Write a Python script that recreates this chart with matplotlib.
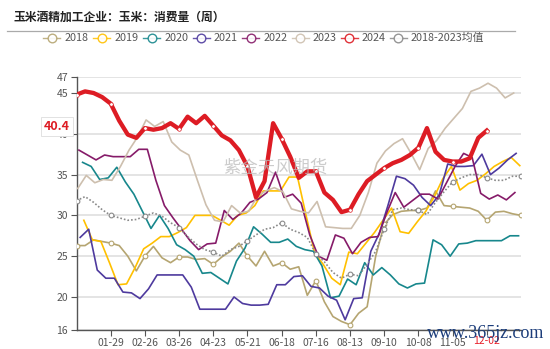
import numpy as np
import pandas as pd
import matplotlib
matplotlib.use('Agg')
from matplotlib import pyplot as plt
from matplotlib.lines import Line2D

plt.rcParams['font.family'] = ['Noto Sans CJK SC', 'DejaVu Sans']

title = '玉米酒精加工企业：玉米：消费量（周）'
years = ['2018', '2019', '2020', '2021', '2022', '2023', '2024']
avg_name = '2018-2023均值'

# weekly consumption, one list per year (weeks start on the first Monday)
v2018 = [26.3, 26.3, 27.0, 26.8, 26.6, 26.3, 25.0, 23.2, 25.0, 26.2,
         24.8, 24.2, 24.9, 24.9, 24.6, 24.7, 24.0, 24.9, 25.6, 26.6,
         25.0, 23.8, 25.6, 23.8, 24.2, 23.4, 23.7, 20.2, 22.0, 19.4,
         17.6, 17.0, 16.6, 18.0, 18.8, 25.0, 28.9, 30.1, 30.5, 30.6,
         30.6, 30.9, 33.0, 31.2, 31.1, 31.0, 30.9, 30.5, 29.4, 30.4,
         30.5, 30.2, 30.0]
v2019 = [29.4, 27.0, 26.8, 24.2, 21.5, 21.6, 23.6, 25.9, 26.6, 27.4,
         27.4, 27.9, 28.5, 30.0, 30.0, 30.0, 29.4, 28.8, 30.0, 30.3,
         31.2, 33.0, 33.0, 33.0, 34.7, 34.7, 30.0, 25.4, 24.0, 22.3,
         21.5, 25.5, 25.3, 26.6, 27.9, 29.4, 30.9, 28.0, 27.8, 29.2,
         30.5, 32.3, 34.5, 36.0, 33.1, 33.9, 34.3, 35.1, 36.0, 36.6,
         37.1, 36.1]
v2020 = [36.5, 36.0, 34.4, 34.6, 35.9, 34.1, 32.6, 30.5, 28.4, 30.0,
         28.4, 26.4, 25.8, 25.0, 22.9, 23.0, 22.3, 21.6, 24.4, 26.0,
         28.6, 27.7, 26.7, 26.7, 27.1, 26.2, 25.8, 25.6, 23.8, 19.9,
         20.1, 22.2, 21.5, 24.2, 22.7, 23.6, 22.7, 21.6, 21.1, 21.6,
         21.7, 27.0, 26.4, 25.0, 26.5, 26.6, 26.9, 26.9, 26.9, 26.9,
         27.5, 27.5]
v2021 = [27.3, 28.3, 23.3, 22.3, 22.3, 20.6, 20.5, 19.8, 21.0, 22.7,
         22.7, 22.7, 22.7, 21.2, 18.5, 18.5, 18.5, 18.5, 20.0, 19.2,
         19.0, 19.0, 19.1, 21.5, 21.5, 22.5, 22.6, 21.3, 21.1, 20.1,
         19.6, 17.2, 19.8, 19.9, 25.6, 27.8, 31.2, 34.8, 34.5, 33.7,
         32.2, 31.2, 32.5, 36.3, 36.0, 36.0, 36.1, 37.5, 35.0, 35.8,
         36.8, 37.6]
v2022 = [38.0, 37.4, 36.8, 37.4, 37.2, 37.2, 37.2, 38.1, 38.1, 34.3,
         31.2, 29.7, 28.3, 26.9, 25.8, 26.5, 26.6, 30.6, 29.5, 30.3,
         31.6, 32.0, 32.8, 35.3, 32.2, 32.6, 31.5, 27.6, 25.0, 24.5,
         27.6, 27.2, 25.3, 26.7, 27.3, 27.4, 30.3, 32.8, 31.0, 31.8,
         32.6, 32.6, 32.0, 34.0, 36.0, 37.6, 37.1, 32.7, 32.0, 32.5,
         31.9, 32.8]
v2023 = [33.3, 34.9, 34.0, 34.4, 34.3, 36.0, 38.0, 39.6, 41.7, 40.9,
         41.5, 39.0, 38.0, 37.4, 34.3, 31.3, 29.4, 29.2, 31.2, 30.3,
         30.5, 32.3, 33.0, 33.4, 32.9, 30.8, 30.5, 30.3, 31.7, 28.6,
         28.5, 28.4, 28.4, 30.0, 32.8, 36.4, 37.9, 38.8, 39.4, 37.6,
         35.6, 38.2, 39.2, 40.7, 41.9, 43.1, 45.2, 45.6, 46.2, 45.6,
         44.4, 45.0]
v2024 = [44.8, 45.2, 45.0, 44.5, 43.7, 41.6, 39.9, 39.5, 40.7, 40.5,
         40.7, 41.3, 40.6, 42.1, 41.3, 42.2, 41.0, 39.8, 39.2, 38.0,
         36.0, 32.2, 34.2, 41.3, 39.4, 37.2, 34.6, 35.4, 35.4, 32.8,
         31.9, 30.4, 30.7, 32.6, 34.2, 35.0, 35.8, 36.4, 36.8, 37.4,
         38.3, 40.7, 37.8, 36.8, 36.6, 36.6, 37.0, 39.5, 40.4]
v_avg = [31.8, 32.3, 31.6, 30.7, 30.0, 29.7, 29.4, 29.5, 29.9, 30.3,
         29.9, 29.1, 28.5, 27.4, 26.5, 25.8, 25.5, 25.0, 25.8, 26.2,
         26.9, 27.6, 28.3, 28.5, 29.1, 28.3, 27.9, 27.3, 25.3, 24.3,
         23.0, 22.3, 22.8, 22.6, 24.0, 25.6, 28.3, 30.7, 30.9, 30.7,
         30.6, 30.1, 31.6, 32.9, 34.1, 34.6, 35.0, 35.0, 34.6, 34.3,
         34.3, 34.8, 34.8]

xtick_labels = ['01-29', '02-26', '03-26', '04-23', '05-21', '06-18',
                '07-16', '08-13', '09-10', '10-08', '11-05']
last_date = '12-02'
last_value = 40.4
yticks = [16, 20, 25, 30, 35, 40, 45, 47]

colors = ['#B5A571', '#FFC000', '#17878C', '#4E3A9E', '#861B69', '#CDBFAE', '#DD1C24']
avg_color = '#8A8A8A'
series = [v2018, v2019, v2020, v2021, v2022, v2023, v2024]


def week_days(year, n):
    # day of year (0 = Jan 1) for each weekly Monday
    d = pd.date_range(f'{year}-01-01', periods=n, freq='W-MON')
    return np.asarray(d.dayofyear) - 1


W, H = 550, 349
fig = plt.figure(figsize=(W / 100, H / 100), dpi=100)
ax = fig.add_axes([76.5 / W, 1 - 329.6 / H, (521 - 76.5) / W, (329.6 - 76.7) / H])

for name, vals, c in zip(years, series, colors):
    x = week_days(name, len(vals))
    if name == '2024':
        ax.plot(x, vals, color=c, lw=3.1, zorder=6, solid_joinstyle='round',
                marker='o', markevery=4, ms=2.6, mfc='white', mec=c, mew=0.5)
    elif name == '2018':
        ax.plot(x, vals, color=c, lw=1.2, zorder=3,
                marker='o', markevery=4, ms=3.4, mfc='white', mec=c, mew=0.8)
    else:
        ax.plot(x, vals, color=c, lw=1.2, zorder=3)

xa = week_days('2018', len(v_avg))
ax.plot(xa, v_avg, color=avg_color, lw=1.2, ls=(0, (1, 1.2)), zorder=5,
        marker='o', markevery=4, ms=3.4, mfc='white', mec=avg_color, mew=0.8)

ax.set_xlim(0, 364)
ax.set_ylim(16, 47)
ax.set_yticks(yticks)
ax.set_yticklabels([str(t) for t in yticks])
ax.yaxis.grid(True, color='#E2E2E2', lw=1.3)
ax.set_axisbelow(True)

tick_days = [28 * (i + 1) for i in range(len(xtick_labels) + 1)]
ax.set_xticks(tick_days)
ax.set_xticklabels(xtick_labels + [''])

for s in ['top', 'right']:
    ax.spines[s].set_visible(False)
for s in ['left', 'bottom']:
    ax.spines[s].set_color('#555555')
    ax.spines[s].set_linewidth(1.0)
ax.tick_params(axis='both', direction='out', length=4, width=0.8, color='#555555',
               labelsize=7.5, labelcolor='#555555')
ax.tick_params(axis='x', pad=2)
ax.tick_params(axis='y', pad=2)

# pointer labels for the latest 2024 value
ax.text(-0.044, last_value + 0.45, f'{last_value}', transform=ax.get_yaxis_transform(),
        ha='center', va='center', color='#DD1C24', fontsize=9, fontweight='bold',
        bbox=dict(boxstyle='square,pad=0.25', fc='white', ec='#DDDDDD', lw=0.6), zorder=10)
ax.text(week_days('2024', len(v2024))[-1], -0.047, last_date, transform=ax.get_xaxis_transform(),
        ha='center', va='center', color='#E8202A', fontsize=7.5,
        bbox=dict(boxstyle='square,pad=0.15', fc='white', ec='none'), zorder=10)

# title and rule
fig.text(14 / W, 1 - 17 / H, title, fontsize=8.5, fontweight='bold', color='#222222',
         ha='left', va='center')
fig.add_artist(Line2D([7 / W, 515 / W], [1 - 30.7 / H, 1 - 30.7 / H],
                      transform=fig.transFigure, color='#AAAAAA', lw=0.9))

# legend
legend_cx = [51.7, 101.7, 151.7, 201, 250.7, 300, 349.3, 398.3]
legend_names = years + [avg_name]
legend_colors = colors + [avg_color]
ly = 1 - 38.3 / H
for cx, name, c in zip(legend_cx, legend_names, legend_colors):
    fig.add_artist(Line2D([(cx - 8.5) / W, (cx + 8.5) / W], [ly, ly], transform=fig.transFigure,
                          color=c, lw=1.0, alpha=0.85))
    fig.add_artist(Line2D([cx / W], [ly], transform=fig.transFigure, marker='o', ms=6.2,
                          mfc='white', mec=c, mew=1.0, alpha=0.9, lw=0))
    fig.text((cx + 12.5) / W, ly, name, fontsize=7.8, color='#555555', ha='left', va='center')

# watermarks
fig.text(275 / W, 1 - 168 / H, '紫金天风期货', fontsize=12.5, color='#BBBBBB', alpha=0.75,
         ha='center', va='center', zorder=20)
fig.text(486 / W, 1 - 334 / H, 'www.365jz.com', fontsize=13, color='#1C3D7A',
         family='Liberation Serif', ha='center', va='center', zorder=20)

fig.savefig('out.png', dpi=100)
